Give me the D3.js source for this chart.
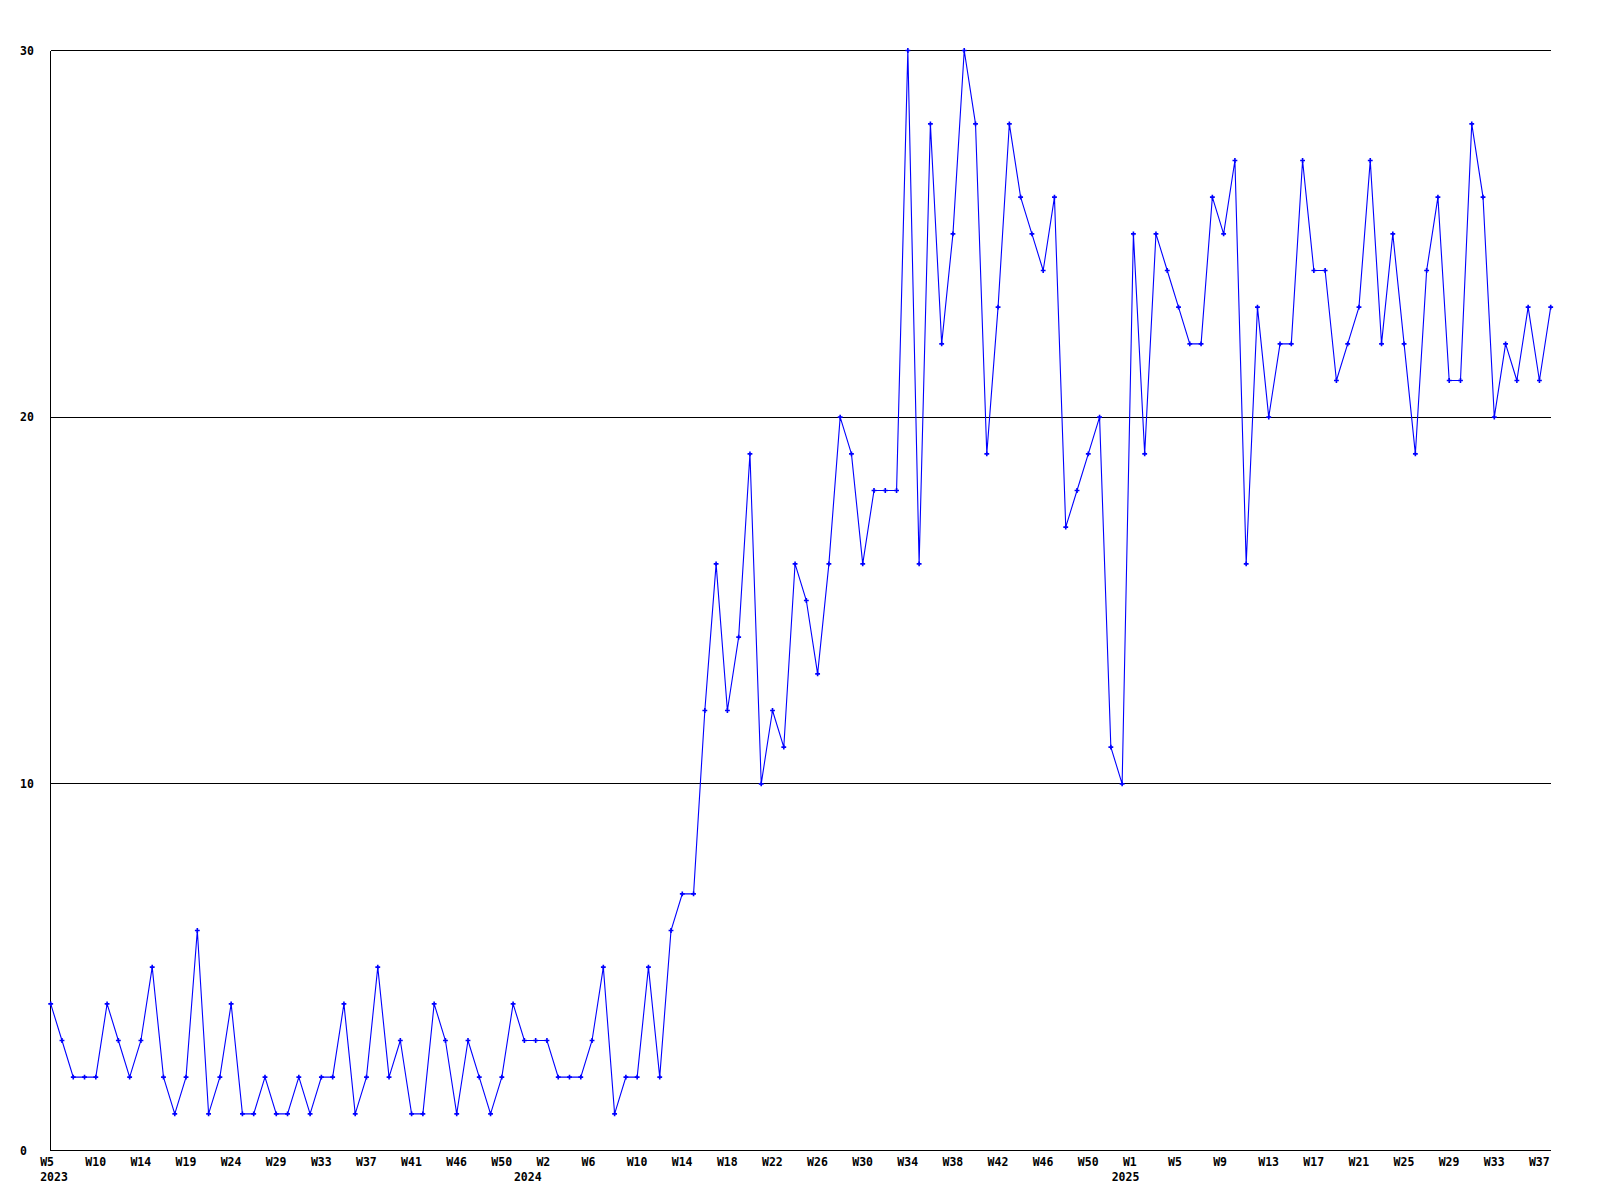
<!DOCTYPE html>
<html>
<head>
<meta charset="utf-8">
<script src="https://cdn.jsdelivr.net/npm/d3@7"></script>
<style>
  html, body { margin: 0; padding: 0; background: #ffffff; }
  svg { display: block; }
  text { font-family: "DejaVu Sans Mono", "Liberation Mono", monospace; font-weight: bold; font-size: 11.5px; fill: #000; }
</style>
</head>
<body>
<svg id="chart" width="1600" height="1200"></svg>
<script>
// Weekly values, 2023 W5 .. 2025 W37
const values = [
  4,3,2,2,2,4,3,2,3,5,2,1,2,6,1,2,4,1,1,2,1,1,2,1,2,2,4,1,2,5,2,3,
  1,1,4,3,1,3,2,1,2,4,3,3,3,2,2,2,3,5,1,2,2,5,2,6,7,7,
  12,16,12,14,19,10,12,11,16,15,13,16,20,19,16,18,18,18,30,16,28,22,
  25,30,28,19,23,28,26,25,24,26,17,18,19,20,11,10,25,19,25,24,23,22,22,
  26,25,27,16,23,20,22,22,27,24,24,21,22,23,27,22,25,22,19,24,26,21,21,28,26,20,22,21,23,21,23
];

// X tick labels, one for every 4th point
const weekLabels = [
  "W5","W10","W14","W19","W24","W29","W33","W37","W41","W46","W50",
  "W2","W6","W10","W14","W18","W22","W26","W30","W34","W38","W42","W46","W50",
  "W1","W5","W9","W13","W17","W21","W25","W29","W33","W37"
];
const labelStep = 4;

// Year labels and the point index where each year starts
const yearLabels = ["2023","2024","2025"];
const yearStartIndex = [0, 42, 95];

// Y ticks
const yTicks = [0, 10, 20, 30];

(function () {
  const svg = d3.select("#chart");
  svg.append("rect").attr("width",1600).attr("height",1200).attr("fill","#fff");

  const plotLeft = 50.5, plotRight = 1551, plotTop = 50.5, plotBottom = 1150.5;

  const x = d3.scaleLinear().domain([0, values.length - 1]).range([50.7, 1550.7]);
  const y = d3.scaleLinear().domain([0, 30]).range([plotBottom, plotTop]);

  // gridlines
  svg.append("g").selectAll("line")
    .data(yTicks)
    .join("line")
    .attr("x1", plotLeft).attr("x2", plotRight)
    .attr("y1", d => y(d))
    .attr("y2", d => y(d))
    .attr("stroke", "#000").attr("stroke-width", 1)
    .attr("shape-rendering", "crispEdges");

  // left axis
  svg.append("line")
    .attr("x1", plotLeft).attr("x2", plotLeft)
    .attr("y1", plotTop).attr("y2", plotBottom)
    .attr("stroke", "#000").attr("stroke-width", 1)
    .attr("shape-rendering", "crispEdges");

  // y labels
  svg.append("g").selectAll("text")
    .data(yTicks)
    .join("text")
    .attr("x", 20)
    .attr("y", d => y(d) + 4)
    .attr("text-anchor", "start")
    .text(d => d);

  // x labels
  svg.append("g").selectAll("text")
    .data(weekLabels)
    .join("text")
    .attr("x", (d, i) => x(i * labelStep) - 10.5)
    .attr("y", 1166)
    .attr("text-anchor", "start")
    .text(d => d);

  // year labels
  svg.append("g").selectAll("text")
    .data(yearLabels)
    .join("text")
    .attr("x", (d, i) => x(yearStartIndex[i]) - 10.5)
    .attr("y", 1181)
    .attr("text-anchor", "start")
    .text(d => d);

  // line
  const line = d3.line()
    .x((d, i) => x(i))
    .y(d => y(d));

  svg.append("path")
    .datum(values)
    .attr("d", line)
    .attr("fill", "none")
    .attr("stroke", "#0000ff")
    .attr("stroke-width", 1.1);

  // markers
  const cross = d3.symbol().type(d3.symbolCross).size(13);
  svg.append("g").selectAll("path")
    .data(values)
    .join("path")
    .attr("transform", (d, i) => `translate(${x(i)},${y(d)})`)
    .attr("d", cross)
    .attr("fill", "#0000ff");
})();
</script>
</body>
</html>
